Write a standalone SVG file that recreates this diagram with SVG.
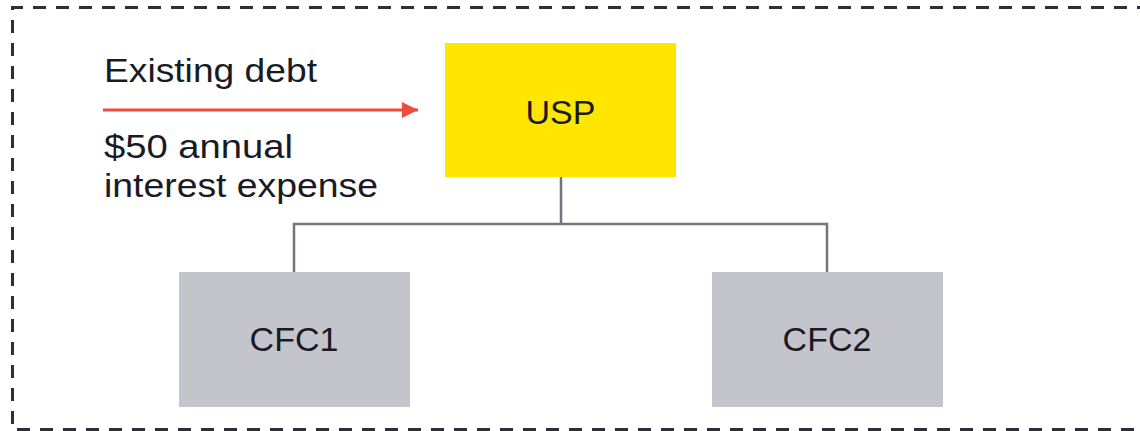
<svg xmlns="http://www.w3.org/2000/svg" width="1140" height="431" viewBox="0 0 1140 431">
<style>
  text { font-family: "Liberation Sans", Arial, sans-serif; fill: #1A1A24; }
  .lbl { font-size: 34px; }
  .node { font-size: 34px; text-anchor: middle; }
  .conn { stroke: #747480; stroke-width: 2.5; fill: none; }
</style>
<defs>
  <marker id="arrow" markerUnits="userSpaceOnUse" markerWidth="17" markerHeight="16" refX="16" refY="8" orient="auto">
    <path d="M0,0 L16,8 L0,16 Z" fill="#F04C3E"/>
  </marker>
</defs>
<rect width="1140" height="431" fill="#FFFFFF"/>
<path d="M1150,7.5 H12.5 V429.5 H1150" fill="none" stroke="#2E2E38" stroke-width="3" stroke-dasharray="13 10"/>
<g id="connectors">
  <path class="conn" d="M561,177 V224 M294,272 V224 H827 V272"/>
  <line x1="103" y1="110" x2="418" y2="110" stroke="#F04C3E" stroke-width="3" marker-end="url(#arrow)"/>
</g>
<g id="labels">
  <text class="lbl" x="104" y="82" textLength="213" lengthAdjust="spacingAndGlyphs">Existing debt</text>
  <text class="lbl" x="104" y="158" textLength="189" lengthAdjust="spacingAndGlyphs">$50 annual</text>
  <text class="lbl" x="104" y="197" textLength="274" lengthAdjust="spacingAndGlyphs">interest expense</text>
</g>
<g id="usp">
  <rect x="445" y="43" width="231" height="134" fill="#FFE600"/>
  <text class="node" x="560.5" y="124">USP</text>
</g>
<g id="cfc1">
  <rect x="179" y="272" width="231" height="135" fill="#C4C4CD"/>
  <text class="node" x="294" y="351">CFC1</text>
</g>
<g id="cfc2">
  <rect x="712" y="272" width="231" height="135" fill="#C4C4CD"/>
  <text class="node" x="827" y="351">CFC2</text>
</g>
</svg>
